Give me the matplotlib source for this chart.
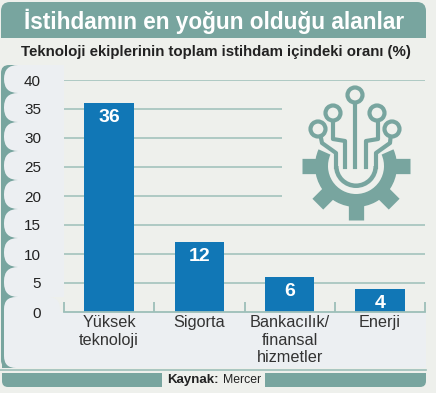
import numpy as np
import matplotlib
matplotlib.use("Agg")
import matplotlib.pyplot as plt
from matplotlib.patches import Rectangle, FancyBboxPatch, Wedge, Circle

categories = ["Yüksek\nteknoloji", "Sigorta", "Bankacılık/\nfinansal\nhizmetler", "Enerji"]
values = [36, 12, 6, 4]
y_ticks = [0, 5, 10, 15, 20, 25, 30, 35, 40]

title = "İstihdamın en yoğun olduğu alanlar"
subtitle = "Teknoloji ekiplerinin toplam istihdam içindeki oranı (%)"

W, H = 436, 393
teal = "#78A59F"
line_col = "#9DBFB9"
bg = "#EEF0EC"
panel = "#ECEFF2"
blue = "#1177B6"
sans = ["Liberation Sans"]

fig = plt.figure(figsize=(W / 100, H / 100), dpi=100, facecolor=bg)


def px_axes(z):
    a = fig.add_axes([0, 0, 1, 1], zorder=z)
    a.set_xlim(0, W)
    a.set_ylim(H, 0)
    a.axis("off")
    a.patch.set_alpha(0)
    return a


def rounded(a, x0, y0, x1, y1, color, r=8, z=1):
    a.add_patch(FancyBboxPatch((x0 + r, y0 + r), x1 - x0 - 2 * r, y1 - y0 - 2 * r,
                               boxstyle="round,pad=%d,rounding_size=%d" % (r, r),
                               fc=color, ec="none", zorder=z))


# background furniture
back = px_axes(0)
rounded(back, 1, 2, 426, 60, teal, r=9)
back.add_patch(Rectangle((0, 38), 436, 30, fc=bg, ec="none", zorder=2))
rounded(back, 1, 65, 30, 368, teal, r=8, z=2.1)

# footer bars, only the outer bottom corners are round
rounded(back, 2, 360, 162, 387, teal, r=6, z=2.2)
back.add_patch(Rectangle((150, 373), 12, 14, fc=teal, ec="none", zorder=2.2))
rounded(back, 265, 360, 426, 387, teal, r=6, z=2.2)
back.add_patch(Rectangle((265, 373), 12, 14, fc=teal, ec="none", zorder=2.2))

tab_edges = [65, 93, 122, 151, 180, 209, 238, 267, 297]
for y0, y1 in zip(tab_edges[:-1], tab_edges[1:]):
    rounded(back, 4, y0, 80, y1, panel, r=14, z=3)
rounded(back, 4, 297, 60, 368, panel, r=12, z=3)
back.add_patch(Rectangle((20, 312), 406, 56, fc=panel, ec="none", zorder=3))
back.add_patch(Rectangle((64, 65), 372, 247, fc=bg, ec="none", zorder=4))
back.add_patch(Rectangle((426, 312), 10, 60, fc=bg, ec="none", zorder=4))
back.add_patch(Rectangle((0, 368), 436, 5, fc=bg, ec="none", zorder=4))
back.plot([0, 426], [369.5, 369.5], color=line_col, lw=1.2, zorder=5)

back.text(214, 21, title, color="white", fontsize=16.3, fontweight="bold",
          family=sans, ha="center", va="center", zorder=6)
back.text(216, 52, subtitle, color="#222222", fontsize=10.8, fontweight="bold",
          family=sans, ha="center", va="center", zorder=6)
back.text(219, 380, "Kaynak:", color="#222222", fontsize=9.5, fontweight="bold",
          family=sans, ha="right", va="center", zorder=6)
back.text(223, 380, "Mercer", color="#222222", fontsize=8.8, family=sans,
          ha="left", va="center", zorder=6)

# chart
ax = fig.add_axes([64 / W, (H - 312) / H, 361 / W, 232 / H], zorder=1)
ax.patch.set_alpha(0)
x = np.arange(len(values))
ax.set_xlim(-0.5, 3.5)
ax.set_ylim(0, 40)
ax.hlines(y_ticks[1:], -0.5, 3.5, color=line_col, lw=1.1, zorder=1)
bars = ax.bar(x, values, width=0.55, color=blue, zorder=2)
for b, v in zip(bars, values):
    ax.annotate(str(v), (b.get_x() + b.get_width() / 2, v), xytext=(0, -10.5),
                textcoords="offset points", ha="center", va="center", color="white",
                fontsize=14, fontweight="bold", family=sans, zorder=3)
for s in ["top", "left", "right"]:
    ax.spines[s].set_visible(False)
ax.spines["bottom"].set_color(line_col)
ax.spines["bottom"].set_linewidth(1.3)
ax.set_xticks(np.arange(-0.5, 4, 1))
ax.set_xticklabels([])
ax.tick_params(axis="x", which="major", direction="in", length=7, width=1.3, color=line_col)
ax.set_xticks(x, minor=True)
ax.set_xticklabels(categories, minor=True, fontsize=11.7, family=sans,
                   color="#333333", linespacing=1.18)
ax.tick_params(axis="x", which="minor", length=0, pad=2.5)
ax.set_yticks(y_ticks)
ax.set_yticklabels([str(t) for t in y_ticks], fontsize=11, family=sans, color="#222222")
ax.tick_params(axis="y", length=0, pad=16.5)

# icon, masks gridlines behind it
front = px_axes(2)
front.add_patch(Rectangle((282, 85), 150, 136, fc=bg, ec="none", zorder=1))
cx, cy = 356, 166
front.add_patch(Wedge((cx, cy), 41, -24, 204, width=13, fc=teal, ec="none", zorder=2))
for ang in [0, 45, 90, 135, 180]:
    t = np.deg2rad(ang)
    front.plot([cx + 34 * np.cos(t), cx + 54 * np.cos(t)],
               [cy + 34 * np.sin(t), cy + 54 * np.sin(t)],
               color=teal, lw=11, solid_capstyle="butt", zorder=2)
front.add_patch(Wedge((cx, cy), 22, 0, 180, width=4.5, fc=teal, ec="none", zorder=2))
paths = [
    ([355, 355], [95, 167]),
    ([333, 333, 345, 345], [113, 139, 141, 167]),
    ([378, 378, 366, 366], [113, 139, 141, 167]),
    ([320, 322, 336, 336], [133, 143, 153, 167]),
    ([391, 390, 376, 376], [133, 143, 153, 167]),
]
for px_, py_ in paths:
    front.plot(px_, py_, color=teal, lw=3, solid_joinstyle="round", zorder=3)
for c in [(355, 95), (333, 113), (377, 113), (318, 129), (392, 129)]:
    front.add_patch(Circle(c, 7.5, fc=bg, ec=teal, lw=3, zorder=4))

fig.savefig("out.png", dpi=100, facecolor=bg)
